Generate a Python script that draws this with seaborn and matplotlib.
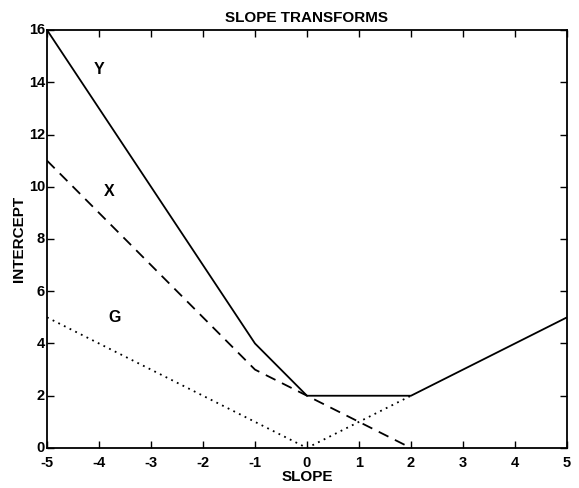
import matplotlib
matplotlib.use("Agg")
import matplotlib.pyplot as plt
import matplotlib.transforms as mtransforms
import seaborn as sns
import pandas as pd

sns.set_theme(style="ticks")
plt.rcParams['font.family'] = ['Liberation Sans', 'DejaVu Sans']
plt.rcParams['font.weight'] = 'bold'
plt.rcParams['text.color'] = 'black'
plt.rcParams['axes.labelcolor'] = 'black'
plt.rcParams['axes.unicode_minus'] = False

# Data
y_slope = [-5, -1, 0, 2, 5]
y_int = [16, 4, 2, 2, 5]
x_slope = [-5, -1, 0, 2]
x_int = [11, 3, 2, 0]
g_slope = [-5, 0, 2]
g_int = [5, 0, 2]
labels = ["Y", "X", "G"]
label_pos = [(-4.0, 14.5), (-3.8, 9.8), (-3.7, 5.0)]

df = pd.concat([
    pd.DataFrame({"slope": y_slope, "intercept": y_int, "series": "Y"}),
    pd.DataFrame({"slope": x_slope, "intercept": x_int, "series": "X"}),
    pd.DataFrame({"slope": g_slope, "intercept": g_int, "series": "G"}),
])

fig = plt.figure(figsize=(5.79, 4.88), dpi=100)
ax = fig.add_axes([0.0812, 0.082, 0.898, 0.8565])

styles = {"Y": "-", "X": (0, (6, 4)), "G": (0, (1, 2.5))}
for name in ["Y", "X", "G"]:
    sub = df[df.series == name]
    sns.lineplot(data=sub, x="slope", y="intercept", ax=ax, color="black",
                 linewidth=1.3, sort=False, estimator=None, legend=False)
    ax.lines[-1].set_linestyle(styles[name])

for lab, (px, py) in zip(labels, label_pos):
    ax.text(px, py, lab, fontsize=11.5, fontweight='bold', ha='center', va='center',
            color='black')

ax.set_xlim(-5, 5)
ax.set_ylim(0, 16)
ax.set_xticks(range(-5, 6))
ax.set_yticks(range(0, 17, 2))
ax.tick_params(direction='in', top=True, right=True, length=5, width=1,
               labelsize=10.5, colors='black')
ax.tick_params(axis='x', pad=5.5)
ax.tick_params(axis='y', pad=1.5)
offset = mtransforms.ScaledTranslation(0, 0.8 / 72, fig.dpi_scale_trans)
for lab in ax.get_yticklabels():
    lab.set_transform(lab.get_transform() + offset)
for lab in ax.get_xticklabels() + ax.get_yticklabels():
    lab.set_fontweight('bold')
for sp in ax.spines.values():
    sp.set_linewidth(1.3)
    sp.set_color('black')
ax.set_xlabel("SLOPE", fontsize=11, fontweight='bold', labelpad=0, color='black')
ax.set_ylabel("INTERCEPT", fontsize=11, fontweight='bold', labelpad=2, color='black')
ax.set_title("SLOPE TRANSFORMS", fontsize=11, fontweight='bold', pad=6, color='black')

fig.savefig("out.png", dpi=100)
